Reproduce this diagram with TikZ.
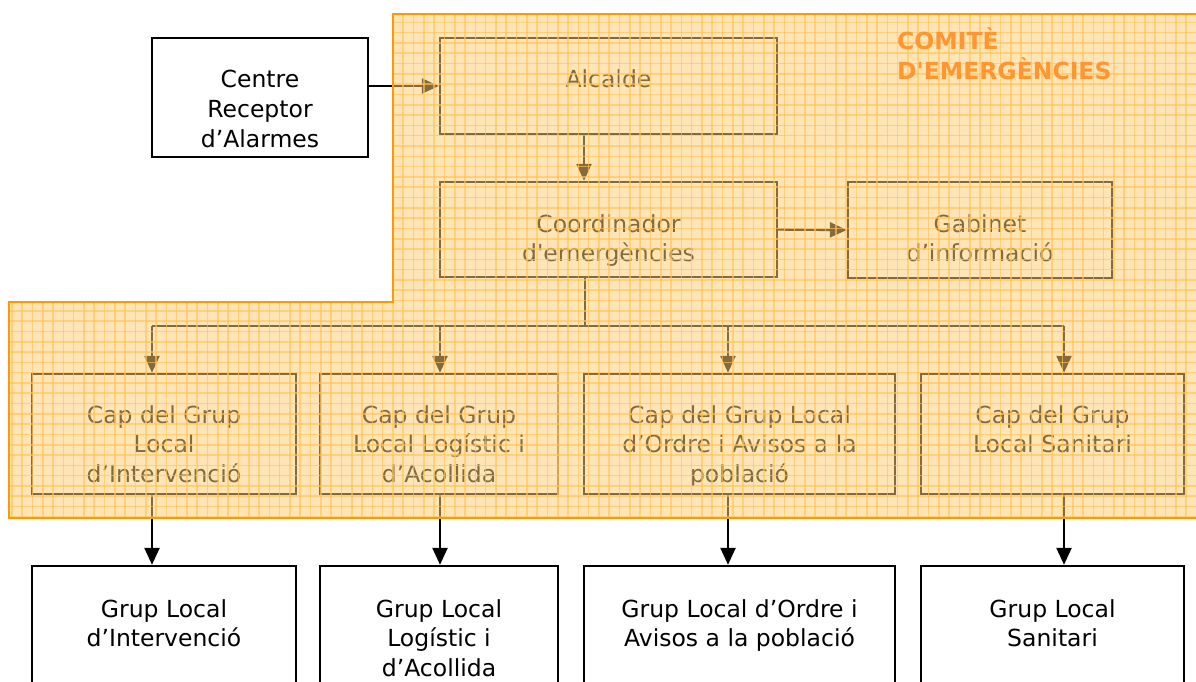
\documentclass[tikz,border=0pt]{standalone}
\usepackage{fontspec}
\newfontfamily\df{DejaVu Sans}
\usetikzlibrary{arrows.meta}
\definecolor{ovl}{RGB}{255,205,115}
\definecolor{gridc}{RGB}{255,196,90}
\definecolor{edgeor}{RGB}{255,153,0}
\definecolor{titleor}{RGB}{255,150,50}
\tikzset{
  boxnode/.style={draw=black, line width=2.4pt, rectangle, inner sep=0pt},
  txt/.style={anchor=base, align=center, inner sep=0pt, font=\df\fontsize{23.5}{29.5}\selectfont, text=black},
  conn/.style={line width=2.4pt, draw=black, -{Triangle[length=17pt,width=15pt]}},
  plainline/.style={line width=2.4pt, draw=black},
  gridline/.style={draw=gridc, line width=1.6pt, opacity=0.65},
}
\begin{document}
\begin{tikzpicture}[x=1pt,y=-1pt]
\useasboundingbox (0,0) rectangle (1196,682);
\fill[white] (0,0) rectangle (1196,682);
\begin{scope}
\clip (0,0) rectangle (1196,682);
% boxes
\node[boxnode, minimum width=216pt, minimum height=119pt] (cra) at (260,97.5) {};
\node[boxnode, minimum width=337pt, minimum height=96pt] (alc) at (608.5,86) {};
\node[boxnode, minimum width=337pt, minimum height=95pt] (coo) at (608.5,229.5) {};
\node[boxnode, minimum width=264pt, minimum height=96pt] (gab) at (980,230) {};
\node[boxnode, minimum width=264pt, minimum height=120pt] (cap1) at (164,434) {};
\node[boxnode, minimum width=238pt, minimum height=120pt] (cap2) at (439,434) {};
\node[boxnode, minimum width=311pt, minimum height=120pt] (cap3) at (739.5,434) {};
\node[boxnode, minimum width=263pt, minimum height=120pt] (cap4) at (1052.5,434) {};
\node[boxnode, fill=white, minimum width=264pt, minimum height=160pt] (grp1) at (164,646) {};
\node[boxnode, fill=white, minimum width=238pt, minimum height=160pt] (grp2) at (439,646) {};
\node[boxnode, fill=white, minimum width=311pt, minimum height=160pt] (grp3) at (739.5,646) {};
\node[boxnode, fill=white, minimum width=263pt, minimum height=160pt] (grp4) at (1052.5,646) {};
% texts (base = last line)
\node[txt] (craT) at (260,147) {Centre\\Receptor\\d’Alarmes};
\node[txt] (alcT) at (608.5,88) {Alcalde};
\node[txt] (cooT) at (608.5,261.5) {Coordinador\\d'emergències};
\node[txt] (gabT) at (980,261.5) {Gabinet\\d’informació};
\node[txt] (cap1T) at (164,482) {Cap del Grup\\Local\\d’Intervenció};
\node[txt] (cap2T) at (439,482) {Cap del Grup\\Local Logístic i\\d’Acollida};
\begin{scope}
\clip (584,374) rectangle (895,485);
\node[txt] (cap3T) at (739.5,482) {Cap del Grup Local\\d’Ordre i Avisos a la\\població};
\end{scope}
\node[txt] (cap4T) at (1052.5,452.5) {Cap del Grup\\Local Sanitari};
\node[txt] (grp1T) at (164,646.5) {Grup Local\\d’Intervenció};
\node[txt] (grp2T) at (439,676) {Grup Local\\Logístic i\\d’Acollida};
\node[txt] (grp3T) at (739.5,646.5) {Grup Local d’Ordre i\\Avisos a la població};
\node[txt] (grp4T) at (1052.5,646.5) {Grup Local\\Sanitari};
% connectors
\coordinate (xa) at (584,0);
\coordinate (bus) at (585,326);
\coordinate (b1) at (152,326);
\coordinate (b2) at (440,326);
\coordinate (b3) at (728,326);
\coordinate (b4) at (1064,326);
\draw[conn] (cra.east |- alc.west) -- (alc.west);
\draw[conn] (xa |- alc.south) -- (xa |- coo.north);
\draw[conn] (coo.east) -- (gab.west);
\draw[plainline] (bus |- coo.south) -- (bus);
\draw[plainline] (b1) -- (b4);
\draw[conn] (b1) -- (b1 |- cap1.north);
\draw[conn] (b2) -- (b2 |- cap2.north);
\draw[conn] (b3) -- (b3 |- cap3.north);
\draw[conn] (b4) -- (b4 |- cap4.north);
\draw[conn] (b1 |- cap1.south) -- (b1 |- grp1.north);
\draw[conn] (b2 |- cap2.south) -- (b2 |- grp2.north);
\draw[conn] (b3 |- cap3.south) -- (b3 |- grp3.north);
\draw[conn] (b4 |- cap4.south) -- (b4 |- grp4.north);
% committee overlay
\fill[ovl, fill opacity=0.52] (393,14) -- (1200,14) -- (1200,518) -- (9,518) -- (9,302) -- (393,302) -- cycle;
\begin{scope}
\clip (393,14) -- (1200,14) -- (1200,518) -- (9,518) -- (9,302) -- (393,302) -- cycle;
\foreach \i in {0,...,117} { \draw[gridline] (\i*10.3+1.5,10) -- (\i*10.3+1.5,520); }
\foreach \j in {0,...,51} { \draw[gridline] (0,\j*10.3+1.8) -- (1200,\j*10.3+1.8); }
\end{scope}
\draw[edgeor, line width=2.4pt] (393,14) -- (1200,14) -- (1200,518) -- (9,518) -- (9,302) -- (393,302) -- cycle;
\node[anchor=base west, align=left, inner sep=0pt, font=\df\bfseries\fontsize{23.5}{30}\selectfont, text=titleor] (title) at (897,80) {COMITÈ\\D'EMERGÈNCIES};
\end{scope}
\end{tikzpicture}
\end{document}
